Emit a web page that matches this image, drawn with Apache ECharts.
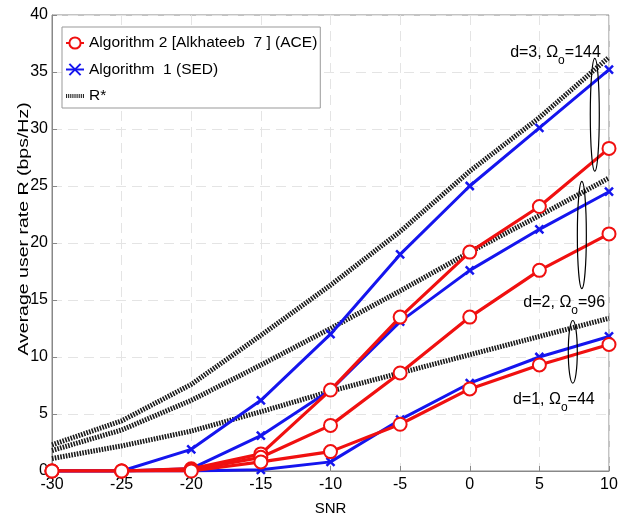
<!DOCTYPE html>
<html>
<head>
<meta charset="utf-8">
<script src="https://cdn.jsdelivr.net/npm/echarts@6/dist/echarts.min.js"></script>
<style>
  html, body { margin: 0; padding: 0; background: #fff; }
  #main { width: 628px; height: 521px; }
</style>
</head>
<body>
<div id="main"></div>
<script>
// SNR values on the x axis
const snr = [-30, -25, -20, -15, -10, -5, 0, 5, 10];

// R* (upper bound) for d = 3, 2, 1
const rStarD3 = [2.3, 4.4, 7.6, 11.9, 16.3, 21.0, 26.3, 31.0, 36.3];
const rStarD2 = [1.8, 3.6, 6.2, 9.3, 12.5, 15.8, 19.2, 22.4, 25.7];
const rStarD1 = [1.1, 2.2, 3.5, 5.2, 7.0, 8.6, 10.2, 11.8, 13.4];

// Algorithm 1 (SED)
const sedD3 = [0, 0, 1.9, 6.2, 12.0, 19.0, 25.0, 30.1, 35.2];
const sedD2 = [0, 0, 0.2, 3.1, 7.1, 13.1, 17.6, 21.2, 24.5];
const sedD1 = [0, 0, 0, 0.1, 0.8, 4.5, 7.7, 10.0, 11.8];

// Algorithm 2 (ACE)
const aceD3 = [0, 0, 0.2, 1.5, 7.1, 13.5, 19.2, 23.2, 28.3];
const aceD2 = [0, 0, 0.1, 1.2, 4.0, 8.6, 13.5, 17.6, 20.8];
const aceD1 = [0, 0, 0, 0.8, 1.7, 4.1, 7.2, 9.3, 11.1];

const nameACE = 'Algorithm 2 [Alkhateeb  7 ] (ACE)';
const nameSED = 'Algorithm  1 (SED)';
const nameR = 'R*';

const pair = arr => arr.map((v, i) => [snr[i], v]);
const xSymbol = 'path://M0,0L10,10M10,0L0,10';
const hatchIcon = 'path://M0,0h1v4h-1zM2,0h1v4h-1zM4,0h1v4h-1zM6,0h1v4h-1zM8,0h1v4h-1zM10,0h1v4h-1zM12,0h1v4h-1zM14,0h1v4h-1zM16,0h1v4h-1zM18,0h1v4h-1z';

const rStarSeries = arr => ({
  name: nameR, type: 'line', data: pair(arr), symbol: 'none', z: 2,
  lineStyle: { color: '#1a1a1a', width: 5, type: [1.6, 1.2] },
  itemStyle: { color: '#1a1a1a' }
});
const sedSeries = arr => ({
  name: nameSED, type: 'line', data: pair(arr), z: 3,
  symbol: xSymbol, symbolSize: 8,
  lineStyle: { color: '#1515ee', width: 3 },
  itemStyle: { color: '#1515ee', borderColor: '#1515ee', borderWidth: 2.5 }
});
const aceSeries = arr => ({
  name: nameACE, type: 'line', data: pair(arr), z: 4,
  symbol: 'emptyCircle', symbolSize: 13,
  lineStyle: { color: '#f01010', width: 3.2 },
  itemStyle: { color: '#f01010', borderColor: '#f01010', borderWidth: 3.5 }
});

const chart = echarts.init(document.getElementById('main'));
const fontFam = 'Liberation Sans, Arial, sans-serif';

chart.setOption({
  animation: false,
  backgroundColor: '#fff',
  textStyle: { fontFamily: fontFam },
  grid: { left: 52, right: 19, top: 15, bottom: 43, show: true, borderColor: '#888', borderWidth: 1 },
  legend: {
    data: [
      { name: nameACE },
      { name: nameSED },
      { name: nameR, icon: hatchIcon, itemStyle: { color: '#1a1a1a' } }
    ],
    orient: 'vertical', left: 62, top: 27,
    backgroundColor: '#fff', borderColor: '#999', borderWidth: 1,
    padding: [8, 3, 4, 3], itemGap: 10.5, itemWidth: 18, itemHeight: 14,
    textStyle: { fontSize: 15.5, color: '#000', fontFamily: fontFam }
  },
  xAxis: {
    type: 'value', min: -30, max: 10, interval: 5,
    name: 'SNR', nameLocation: 'middle', nameGap: 30,
    nameTextStyle: { fontSize: 15, color: '#000' },
    axisLine: { onZero: false, lineStyle: { color: '#888' } },
    axisTick: { inside: true, length: 5, lineStyle: { color: '#888' } },
    axisLabel: { fontSize: 16, color: '#000', margin: 6 },
    splitLine: { show: true, lineStyle: { color: '#e4e4e4', type: [10, 6] } }
  },
  yAxis: {
    type: 'value', min: 0, max: 40, interval: 5,
    axisLine: { onZero: false, lineStyle: { color: '#888' } },
    axisTick: { inside: true, length: 5, lineStyle: { color: '#888' } },
    axisLabel: { fontSize: 16, color: '#000', margin: 4 },
    splitLine: { show: true, lineStyle: { color: '#e4e4e4', type: [10, 6] } }
  },
  series: [
    rStarSeries(rStarD3), rStarSeries(rStarD2), rStarSeries(rStarD1),
    sedSeries(sedD3), sedSeries(sedD2), sedSeries(sedD1),
    aceSeries(aceD3), aceSeries(aceD2), aceSeries(aceD1)
  ]
});

// annotation ellipses and labels placed in data coordinates
const px = (x, y) => chart.convertToPixel({ gridIndex: 0 }, [x, y]);
const ellipse = (x, y0, y1, rx) => {
  const a = px(x, y0), b = px(x, y1);
  return {
    type: 'ellipse', z: 20,
    shape: { cx: a[0], cy: (a[1] + b[1]) / 2, rx: rx, ry: Math.abs(a[1] - b[1]) / 2 },
    style: { fill: 'none', stroke: '#000', lineWidth: 1.2 }
  };
};
const label = (x, y, d, om) => {
  const p = px(x, y);
  return {
    type: 'text', z: 20, x: p[0], y: p[1],
    style: {
      text: '{t|d=' + d + ', Ω}{s|o}{t|=' + om + '}',
      fill: '#000', align: 'left', verticalAlign: 'top',
      rich: {
        t: { fontSize: 16, fontFamily: fontFam, lineHeight: 18, verticalAlign: 'top' },
        s: { fontSize: 12, fontFamily: fontFam, lineHeight: 12, padding: [10, 0, 0, 0], verticalAlign: 'top' }
      }
    }
  };
};
chart.setOption({
  graphic: [
    ellipse(8.98, 36.2, 26.3, 4.5),
    ellipse(8.05, 25.4, 16.0, 4.5),
    ellipse(7.4, 13.2, 7.7, 4.5),
    label(2.9, 37.4, 3, 144),
    label(3.85, 15.5, 2, 96),
    label(3.1, 7.0, 1, 44),
    {
      type: 'text', z: 20, x: 24, y: 229, rotation: Math.PI / 2, scaleX: 1.3,
      style: {
        text: 'Average user rate R (bps/Hz)', fill: '#000',
        fontSize: 15, fontFamily: fontFam, align: 'center', verticalAlign: 'middle'
      }
    }
  ]
});
</script>
</body>
</html>
